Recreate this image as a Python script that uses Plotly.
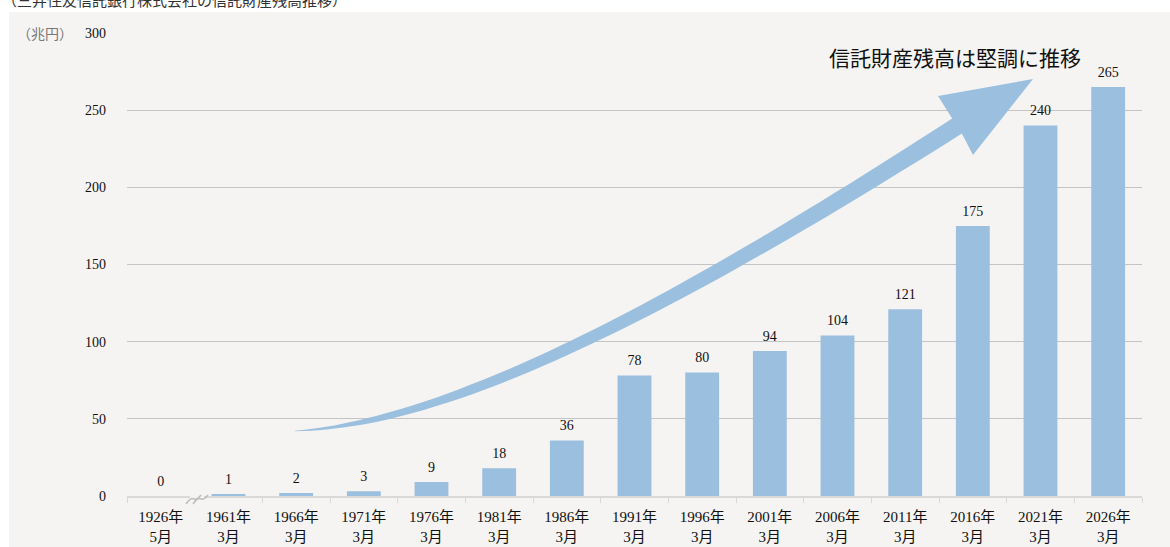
import math
import numpy as np
import plotly.graph_objects as go

# ---- data ----
categories = ["1926年<br>5月", "1961年<br>3月", "1966年<br>3月", "1971年<br>3月", "1976年<br>3月",
              "1981年<br>3月", "1986年<br>3月", "1991年<br>3月", "1996年<br>3月", "2001年<br>3月",
              "2006年<br>3月", "2011年<br>3月", "2016年<br>3月", "2021年<br>3月", "2026年<br>3月"]
values = [0, 1, 2, 3, 9, 18, 36, 78, 80, 94, 104, 121, 175, 240, 265]
y_ticks = [0, 50, 100, 150, 200, 250, 300]
unit_label = "（兆円）"
title_text = "（三井住友信託銀行株式会社の信託財産残高推移）"
arrow_text = "信託財産残高は堅調に推移"

# ---- layout geometry (pixels) ----
W, H = 1170, 547
L, R, T, B = 127, 1142, 33, 496
SERIF = "Liberation Serif, Noto Sans CJK JP, serif"
CJK = "Noto Sans CJK JP, sans-serif"
BAR = "#9bbfdf"
BG = "#f5f4f2"


def px(xp):
    return (xp - L) / (R - L)


def py(yp):
    return (B - yp) / (B - T)


def pt(p):
    return f"{px(p[0]):.5f},{py(p[1]):.5f}"


fig = go.Figure()
fig.add_bar(x=categories, y=values, marker=dict(color=BAR, line=dict(width=0)),
            width=0.5, hoverinfo="skip")
fig.add_scatter(x=categories, y=values, mode="markers+text",
                text=[str(v) for v in values], textposition="top center",
                marker=dict(size=9, color="rgba(0,0,0,0)"),
                textfont=dict(size=14, family=SERIF, color="#111"),
                hoverinfo="skip", cliponaxis=False)

# big curved arrow (decoration): centre line as one cubic Bezier, in pixels
P0, P1, P2, P3 = (295, 431), (445, 423.5), (657, 318), (957, 126)
thick_x = [295, 380, 480, 600, 700, 862, 957]
thick_w = [0.6, 6.2, 9.8, 12.2, 14.0, 16.6, 18.0]
upper, lower = [], []
for t in np.linspace(0, 1, 60):
    mt = 1 - t
    cx = mt**3 * P0[0] + 3 * mt**2 * t * P1[0] + 3 * mt * t**2 * P2[0] + t**3 * P3[0]
    cy = mt**3 * P0[1] + 3 * mt**2 * t * P1[1] + 3 * mt * t**2 * P2[1] + t**3 * P3[1]
    dx = 3 * mt**2 * (P1[0] - P0[0]) + 6 * mt * t * (P2[0] - P1[0]) + 3 * t**2 * (P3[0] - P2[0])
    dy = 3 * mt**2 * (P1[1] - P0[1]) + 6 * mt * t * (P2[1] - P1[1]) + 3 * t**2 * (P3[1] - P2[1])
    n = math.hypot(dx, dy)
    nx, ny = dy / n, -dx / n
    h = float(np.interp(cx, thick_x, thick_w)) / 2
    upper.append((cx + nx * h, cy + ny * h))
    lower.append((cx - nx * h, cy - ny * h))
head = [(938, 96), (1033, 79), (973, 155)]
path = "M " + " L ".join(pt(p) for p in upper)
path += " L " + " L ".join(pt(p) for p in head)
path += " L " + " L ".join(pt(p) for p in lower[::-1]) + " Z"

shapes = [
    dict(type="rect", xref="paper", yref="paper", x0=px(9), x1=px(W), y0=py(H), y1=py(12),
         fillcolor=BG, line=dict(width=0), layer="below"),
    dict(type="path", xref="paper", yref="paper", path=path, fillcolor=BAR,
         line=dict(width=0), layer="above"),
    # axis break mark
    dict(type="rect", xref="paper", yref="paper", x0=px(190), x1=px(204), y0=py(499), y1=py(493),
         fillcolor=BG, line=dict(width=0), layer="above"),
    dict(type="path", xref="paper", yref="paper",
         path=f"M {pt((186, 504))} Q {pt((191, 497))} {pt((194, 499))} Q {pt((197, 500))} {pt((201, 495))}",
         line=dict(color="#bdbdbd", width=1.5), layer="above"),
    dict(type="path", xref="paper", yref="paper",
         path=f"M {pt((193, 504))} Q {pt((198, 497))} {pt((201, 499))} Q {pt((204, 500))} {pt((208, 495))}",
         line=dict(color="#bdbdbd", width=1.5), layer="above"),
]

annotations = [
    dict(text=unit_label, xref="paper", yref="paper", x=px(45), y=py(33), showarrow=False,
         xanchor="center", yanchor="middle", font=dict(size=14, family=CJK, color="#777")),
    dict(text=title_text, xref="paper", yref="paper", x=px(0), y=py(0), showarrow=False,
         xanchor="left", yanchor="middle", font=dict(size=15, family=CJK, color="#333")),
    dict(text=arrow_text, xref="paper", yref="paper", x=px(955), y=py(57), showarrow=False,
         xanchor="center", yanchor="middle", font=dict(size=21, family=CJK, color="#111")),
]

fig.update_layout(
    width=W, height=H, autosize=False,
    margin=dict(l=L, r=W - R, t=T, b=H - B, pad=0),
    paper_bgcolor="white", plot_bgcolor="rgba(0,0,0,0)",
    showlegend=False, bargap=0.5,
    shapes=shapes, annotations=annotations,
)
fig.update_xaxes(type="category", range=[-0.5, len(categories) - 0.5],
                 showline=True, linecolor="#d9d9d9", linewidth=2,
                 ticks="outside", tickson="boundaries", ticklen=5, tickcolor="#d9d9d9",
                 ticklabelstandoff=6,
                 tickfont=dict(size=15, family=SERIF, color="#111"), showgrid=False,
                 automargin=False, fixedrange=True)
fig.update_yaxes(range=[0, 300], tickvals=y_ticks, showgrid=True, gridcolor="#c4c4c4",
                 gridwidth=1.3, zeroline=False, showline=False, ticks="",
                 ticklabelstandoff=20,
                 tickfont=dict(size=14, family=SERIF, color="#111"),
                 automargin=False, fixedrange=True)

fig.write_html("out.html", config={"displayModeBar": False},
               post_script="document.body.style.margin='0';")
